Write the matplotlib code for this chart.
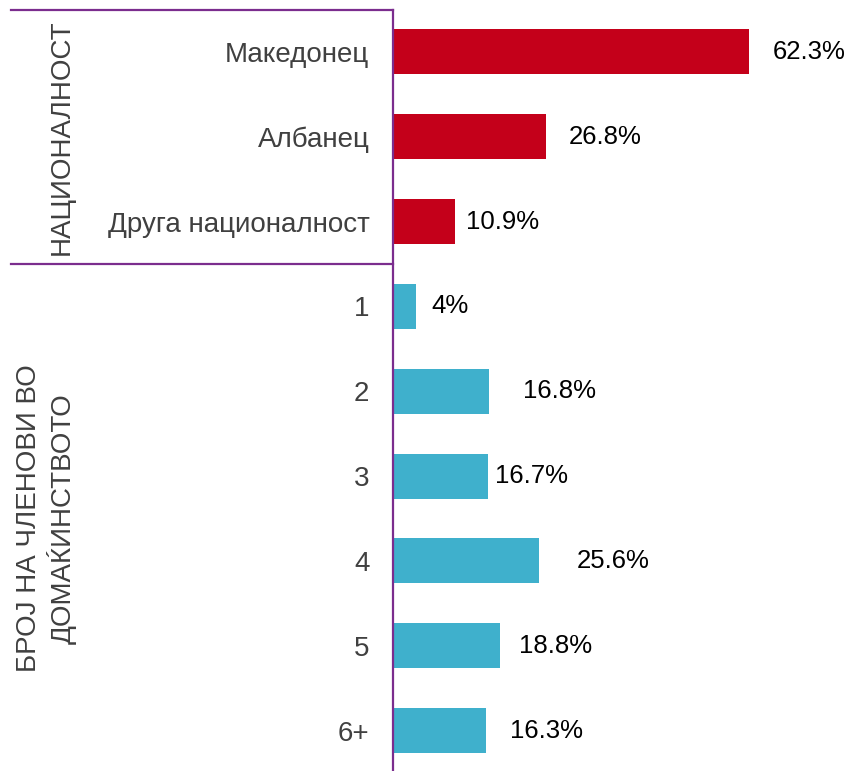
import matplotlib.pyplot as plt
import numpy as np

plt.rcParams['font.family'] = ['Liberation Sans', 'DejaVu Sans']

categories = ['Македонец', 'Албанец', 'Друга националност',
              '1', '2', '3', '4', '5', '6+']
values = [62.3, 26.8, 10.9, 4, 16.8, 16.7, 25.6, 18.8, 16.3]
value_labels = ['62.3%', '26.8%', '10.9%', '4%', '16.8%', '16.7%',
                '25.6%', '18.8%', '16.3%']
groups = ['НАЦИОНАЛНОСТ', 'БРОЈ НА ЧЛЕНОВИ ВО\nДОМАЌИНСТВОТО']
group_sizes = [3, 6]

red = '#C4001A'
blue = '#3FB0CC'
purple = '#7B2D8E'
grey = '#404040'

# gap between bar end and label, in points (labels sit unevenly in the original)
label_gaps = [17, 16.5, 8, 11.5, 24.5, 4.5, 27, 13.5, 17]

fig = plt.figure(figsize=(8.53, 7.71), dpi=100)
ax = fig.add_axes([393 / 853, 0, 460 / 853, 761 / 771])

y = np.arange(len(categories))
colors = [red] * group_sizes[0] + [blue] * group_sizes[1]
ax.barh(y, values, height=0.53, color=colors)

ax.set_xlim(0, 460 / 5.714)
ax.set_ylim(8.476, -0.494)

for yi, v, lab, g in zip(y, values, value_labels, label_gaps):
    ax.annotate(lab, (v, yi), xytext=(g, 0), textcoords='offset points',
                va='center', ha='left', fontsize=18.5, color='black')

ax.set_yticks(y)
ax.set_yticklabels(categories, fontsize=20, color=grey)
ax.tick_params(axis='y', length=0, pad=17)
ax.set_xticks([])

for s in ['top', 'right', 'bottom']:
    ax.spines[s].set_visible(False)
ax.spines['left'].set_color(purple)
ax.spines['left'].set_linewidth(1.6)

# group separators
tr = ax.get_yaxis_transform()
x0 = (11 - 393) / 460
start = -0.494
for i, size in enumerate(group_sizes):
    ax.plot([x0, 0], [start, start], color=purple, lw=1.6,
            transform=tr, clip_on=False)
    first = sum(group_sizes[:i])
    start = first + size - 0.5

ax.text((62 - 393) / 460, 1.0, groups[0], transform=tr, rotation=90,
        ha='center', va='center', fontsize=20, color=grey)
ax.text((46 - 393) / 460, 5.5, groups[1], transform=tr, rotation=90,
        ha='center', va='center', fontsize=20, color=grey,
        multialignment='center', linespacing=1.2)

fig.savefig('out.png', dpi=100)
